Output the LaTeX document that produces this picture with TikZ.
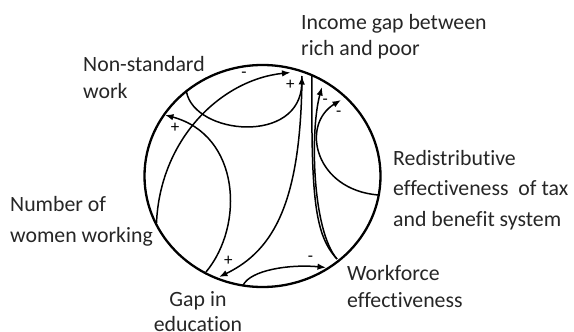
\documentclass[tikz,border=0pt]{standalone}
\usepackage{fontspec}
\setmainfont[Ligatures={NoCommon,NoContextual}]{Carlito}
\usetikzlibrary{arrows.meta}
\begin{document}
\begin{tikzpicture}[x=1pt,y=-1pt,
  lbl/.style={font=\fontsize{21.8}{26.6}\selectfont, align=left, inner sep=0pt, text=black!85, anchor=west},
  sign/.style={font=\fontsize{17}{17}\selectfont, inner sep=0pt},
  link/.style={line width=1.5pt, -{Latex[length=8.5pt,width=6.5pt]}},
  plainlink/.style={line width=1.5pt}]
\useasboundingbox (0,0) rectangle (574,332);
% the loop circle
\draw[line width=2.3pt] (262.5,176) ellipse [x radius=118pt, y radius=111pt];
% labels
\node[lbl] (income) at (301,36.5) {Income gap between\\rich and poor};
\node[lbl] (nonstd) at (83,77.5) {Non-standard\\work};
\node[lbl, font=\fontsize{21.8}{30.5}\selectfont] (redist) at (393,190) {Redistributive\\effectiveness\ \ of tax\\and benefit system};
\node[lbl, font=\fontsize{21.8}{31}\selectfont] (women) at (10,221) {Number of\\women working};
\node[lbl] (workforce) at (347,286.5) {Workforce\\effectiveness};
\node[lbl, align=center, anchor=center, font=\fontsize{21.8}{25}\selectfont] (gap) at (198,311.5) {Gap in\\education};
% connection points on the circle
\coordinate (ns) at (186.5,92);
\coordinate (incA) at (302,76);
\coordinate (incB) at (290.5,72.5);
\coordinate (ww) at (156.5,223);
\coordinate (geC) at (206,272);
\coordinate (nsC) at (165,115);
\coordinate (geD) at (219,277);
\coordinate (incE) at (312,76);
\coordinate (wf) at (337,259);
\coordinate (incF) at (322,87);
\coordinate (rd) at (378.5,195);
\coordinate (incG) at (341,100);
\coordinate (geH) at (243,285.5);
\coordinate (wfH) at (326,267.5);
% connectors
\draw[link] (ns) .. controls (195,135) and (300,145) .. (incA);
\draw[link] (ww) .. controls (160,140) and (220,80) .. (incB);
\draw[link] (geC) .. controls (245,225) and (240,135) .. (nsC);
\draw[link] (incA) .. controls (301,200) and (275,250) .. (geD);
\draw[plainlink] (incE) .. controls (311,200) and (315,235) .. (wf);
\draw[link] (wf) .. controls (312,230) and (310,130) .. (incF);
\draw[link] (rd) .. controls (315,190) and (300,125) .. (incG);
\draw[link] (geH) .. controls (250,270) and (290,264) .. (wfH);
% polarity signs
\node[sign] (m1) at (244,75) {-};
\node[sign] (p1) at (290.3,85) {+};
\node[sign] (m2) at (325.3,101.7) {-};
\node[sign] (m3) at (338.7,113.3) {-};
\node[sign] (p2) at (175,128) {+};
\node[sign] (p3) at (228.3,260.7) {+};
\node[sign] (m4) at (310.5,259) {-};
\end{tikzpicture}
\end{document}
